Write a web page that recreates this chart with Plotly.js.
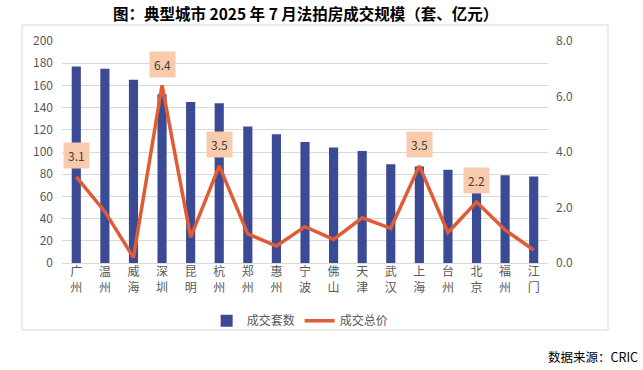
<!DOCTYPE html>
<html><head><meta charset="utf-8">
<script src="https://cdn.plot.ly/plotly-3.0.1.min.js"></script>
<style>body{margin:0;background:#fff}#c{width:643px;height:370px}</style>
</head><body><div id="c"></div>
<script>
const cities = ['广州','温州','威海','深圳','昆明','杭州','郑州','惠州','宁波','佛山','天津','武汉','上海','台州','北京','福州','江门'];
const tickLabels = ['广<br>州','温<br>州','威<br>海','深<br>圳','昆<br>明','杭<br>州','郑<br>州','惠<br>州','宁<br>波','佛<br>山','天<br>津','武<br>汉','上<br>海','台<br>州','北<br>京','福<br>州','江<br>门'];
const units = [177,175,165,152,145,144,123,116,109,104,101,89,87,84,81,79,78];
const amount = [3.1,1.85,0.2,6.4,0.93,3.5,1.05,0.61,1.31,0.85,1.63,1.25,3.5,1.1,2.2,1.19,0.47];
const labelled = ['广州','深圳','杭州','上海','北京'];

const font = 'Microsoft YaHei, "Noto Sans CJK SC", "Noto Sans", sans-serif';
const grey = '#595959';

const annotations = labelled.map(c => {
  const i = cities.indexOf(c);
  return {x: c, y: amount[i], xref: 'x', yref: 'y2', text: amount[i].toFixed(1),
    showarrow: false, yshift: 21, bgcolor: '#F8CBAD', borderpad: 4,
    font: {family: font, size: 12, color: '#404040'}};
});
annotations.push({xref: 'paper', yref: 'paper', x: 0.5, y: 1.128, xanchor: 'center', yanchor: 'middle',
  text: '<b>图：典型城市 2025 年 7 月法拍房成交规模（套、亿元）</b>', showarrow: false,
  font: {family: '"Noto Sans CJK SC", sans-serif', size: 15.5, color: '#000'}});
annotations.push({xref: 'paper', yref: 'paper', x: 1.19, y: -0.423, xanchor: 'right', yanchor: 'middle',
  text: '数据来源：CRIC', showarrow: false,
  font: {family: '"Noto Sans CJK SC", sans-serif', size: 12.5, color: '#000'}});

const data = [
  {type: 'bar', name: '成交套数', x: cities, y: units, marker: {color: '#3A4A94'}, width: 0.32},
  {type: 'scatter', mode: 'lines', name: '成交总价', x: cities, y: amount, yaxis: 'y2',
   line: {color: '#E15B35', width: 3.5}}
];

const layout = {
  width: 643, height: 370,
  margin: {l: 62, r: 95, t: 41, b: 107},
  paper_bgcolor: '#fff', plot_bgcolor: '#fff',
  showlegend: true,
  legend: {orientation: 'h', x: 0.49, xanchor: 'center', y: -0.26, yanchor: 'middle',
    bgcolor: 'rgba(0,0,0,0)',
    font: {family: font, size: 12, color: grey}, tracegroupgap: 0},
  xaxis: {type: 'category', tickmode: 'array', tickvals: cities, ticktext: tickLabels,
    tickfont: {family: font, size: 12, color: grey}, showgrid: false, showline: false,
    ticks: '', range: [-0.5, cities.length - 0.5]},
  yaxis: {range: [0, 200], dtick: 20, gridcolor: '#D9D9D9', gridwidth: 1, zeroline: true,
    zerolinecolor: '#D9D9D9', showline: false, ticks: '', ticklabelstandoff: 8,
    tickfont: {family: font, size: 12, color: grey}},
  yaxis2: {range: [0, 8], dtick: 2, overlaying: 'y', side: 'right', showgrid: false,
    zeroline: false, showline: false, tickformat: '.1f', ticks: '', ticklabelstandoff: 7,
    tickfont: {family: font, size: 12, color: grey}},
  shapes: [{type: 'rect', xref: 'paper', yref: 'paper', x0: -0.0823, x1: 1.1235, y0: -0.302, y1: 1.072,
    line: {color: '#D9D9D9', width: 1}, fillcolor: 'rgba(0,0,0,0)', layer: 'below'}],
  annotations: annotations
};

Plotly.newPlot('c', data, layout, {displayModeBar: false, staticPlot: true});
</script></body></html>
